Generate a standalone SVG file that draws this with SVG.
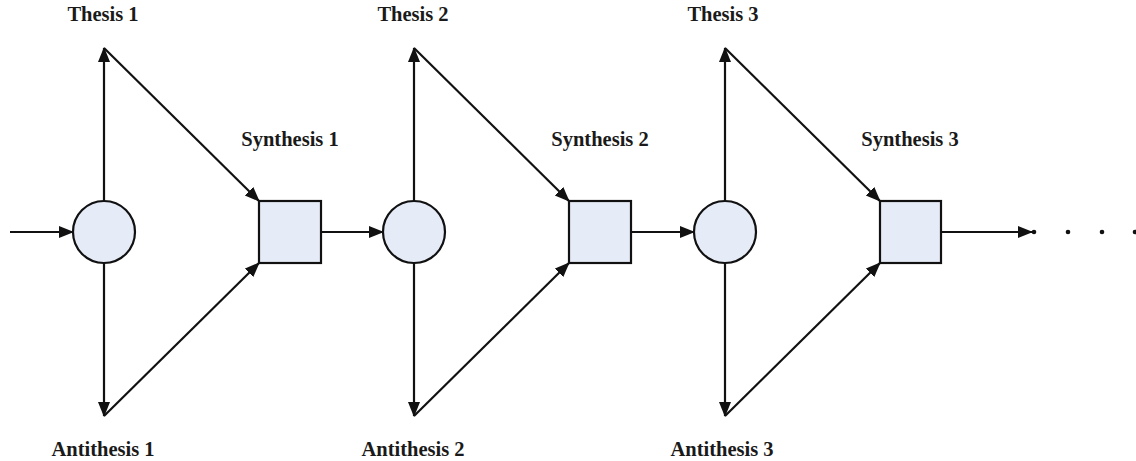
<svg xmlns="http://www.w3.org/2000/svg" width="1136" height="461" viewBox="0 0 1136 461">
<defs>
<style>
.lbl{font-family:"Liberation Serif","Times New Roman",serif;font-weight:bold;font-size:20.5px;fill:#1a1a1a;text-anchor:middle}
.c{stroke:#111;stroke-width:2.2;fill:none;marker-end:url(#ah)}
.n{fill:#e6ecf7;stroke:#111;stroke-width:2.2}
</style>
<marker id="ah" markerUnits="userSpaceOnUse" markerWidth="16" markerHeight="13" refX="14" refY="6" orient="auto"><path d="M0,0 L15,6 L0,12 z" fill="#111"/></marker>
</defs>
<g id="connectors">
<path class="c" d="M10,232 H73"/>
<path class="c" d="M104,201 V48"/>
<path class="c" d="M104,48 L259,201"/>
<path class="c" d="M104,263 V416"/>
<path class="c" d="M104,416 L259,263"/>
<path class="c" d="M321,232 H383"/>
<path class="c" d="M414,201 V48"/>
<path class="c" d="M414,48 L569,201"/>
<path class="c" d="M414,263 V416"/>
<path class="c" d="M414,416 L569,263"/>
<path class="c" d="M631,232 H694"/>
<path class="c" d="M725,201 V48"/>
<path class="c" d="M725,48 L880,201"/>
<path class="c" d="M725,263 V416"/>
<path class="c" d="M725,416 L880,263"/>
<path class="c" d="M941,232 H1032"/>
</g>
<g id="dots" fill="#111">
<circle cx="1034" cy="232" r="2.3"/>
<circle cx="1068" cy="232" r="2.3"/>
<circle cx="1102" cy="232" r="2.3"/>
<circle cx="1135" cy="232" r="2.3"/>
</g>
<g id="circle1"><circle class="n" cx="104" cy="232" r="31"/></g>
<g id="square1"><rect class="n" x="259" y="201" width="62" height="62"/></g>
<g id="circle2"><circle class="n" cx="414" cy="232" r="31"/></g>
<g id="square2"><rect class="n" x="569" y="201" width="62" height="62"/></g>
<g id="circle3"><circle class="n" cx="725" cy="232" r="31"/></g>
<g id="square3"><rect class="n" x="880" y="201" width="61" height="62"/></g>
<g id="thesis1"><text class="lbl" x="103" y="21">Thesis 1</text></g>
<g id="synthesis1"><text class="lbl" x="290" y="146">Synthesis 1</text></g>
<g id="antithesis1"><text class="lbl" x="103" y="456">Antithesis 1</text></g>
<g id="thesis2"><text class="lbl" x="413" y="21">Thesis 2</text></g>
<g id="synthesis2"><text class="lbl" x="600" y="146">Synthesis 2</text></g>
<g id="antithesis2"><text class="lbl" x="413" y="456">Antithesis 2</text></g>
<g id="thesis3"><text class="lbl" x="723" y="21">Thesis 3</text></g>
<g id="synthesis3"><text class="lbl" x="910" y="146">Synthesis 3</text></g>
<g id="antithesis3"><text class="lbl" x="722" y="456">Antithesis 3</text></g>
</svg>
